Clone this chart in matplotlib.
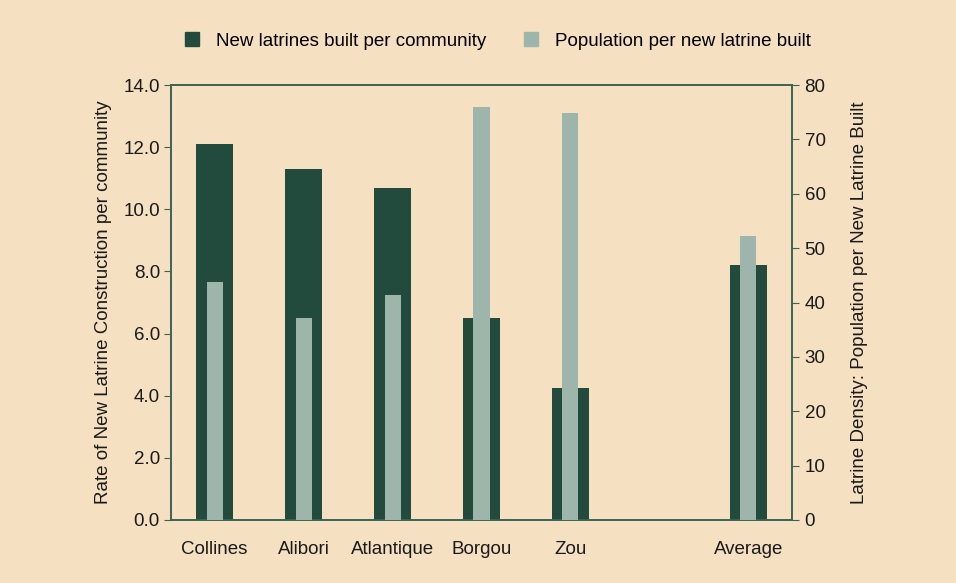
import matplotlib.pyplot as plt
from matplotlib.patches import Patch
from matplotlib.ticker import FormatStrFormatter

# ---- data
regions = ["Collines", "Alibori", "Atlantique", "Borgou", "Zou", "", "Average"]
latrines_per_community = [12.1, 11.3, 10.7, 6.5, 4.25, None, 8.2]
population_per_latrine = [43.7, 37.1, 41.4, 75.9, 74.8, None, 52.2]

bg = "#F5E0C2"
dark = "#224B3E"
light = "#9EB5AC"
spine_col = "#3A6354"
txt = "#1a1a1a"
fs = 13.5

plt.rcParams['font.family'] = ['Liberation Sans', 'DejaVu Sans']

fig = plt.figure(figsize=(9.56, 5.83), dpi=100, facecolor=bg)
ax = fig.add_axes([171/956, 1 - 520/583, (792-171)/956, (520-85)/583])
ax.set_facecolor(bg)
ax2 = ax.twinx()

x = list(range(len(regions)))
xd = [i for i, v in zip(x, latrines_per_community) if v is not None]
vd = [v for v in latrines_per_community if v is not None]
xl = [i for i, v in zip(x, population_per_latrine) if v is not None]
vl = [v for v in population_per_latrine if v is not None]

ax.bar(xd, vd, width=0.42, color=dark, zorder=2)
ax2.bar(xl, vl, width=0.18, color=light, zorder=3)

ax.set_xlim(-0.49, 6.49)
ax.set_ylim(0, 14)
ax2.set_ylim(0, 80)
ax.set_yticks([0, 2, 4, 6, 8, 10, 12, 14])
ax.yaxis.set_major_formatter(FormatStrFormatter('%.1f'))
ax2.set_yticks(range(0, 81, 10))

ax.set_xticks(x)
ax.set_xticklabels(regions, fontsize=fs, color=txt)
ax.tick_params(axis='x', length=0, pad=15)
ax.tick_params(axis='y', labelsize=fs, colors=txt, length=5, color=spine_col, pad=3)
ax2.tick_params(axis='y', labelsize=fs, colors=txt, length=5, color=spine_col, pad=4)

for a in (ax, ax2):
    for s in a.spines.values():
        s.set_color(spine_col)
        s.set_linewidth(1.2)

ax.set_ylabel("Rate of New Latrine Construction per community", fontsize=fs,
              color=txt, labelpad=8)
ax2.set_ylabel("Latrine Density: Population per New Latrine Built", fontsize=fs,
               color=txt, labelpad=18)

handles = [Patch(color=dark, label="New latrines built per community"),
           Patch(color=light, label="Population per new latrine built")]
fig.legend(handles=handles, loc="center", bbox_to_anchor=(0.521, 1 - 41/583),
           ncol=2, frameon=False, fontsize=fs, handlelength=0.75, handleheight=0.75,
           columnspacing=2.0, handletextpad=0.9)

fig.savefig("out.png", dpi=100, facecolor=bg)
